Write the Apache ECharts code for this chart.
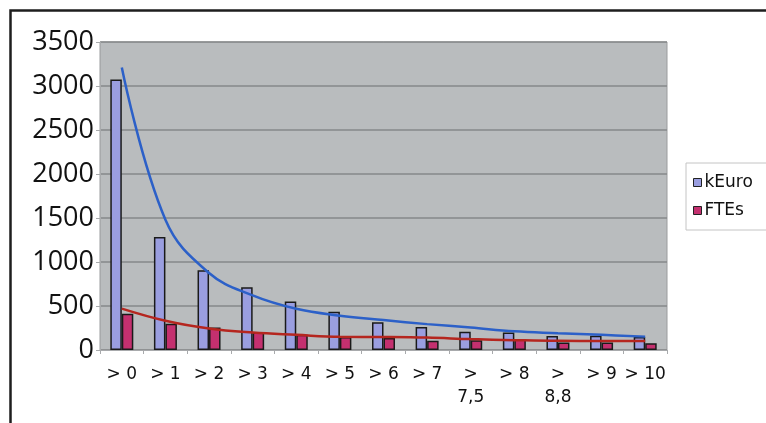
<!DOCTYPE html>
<html>
<head>
<meta charset="utf-8">
<script src="https://cdn.jsdelivr.net/npm/echarts@6/dist/echarts.min.js"></script>
<style>
html,body{margin:0;padding:0;background:#fff;}
#c{width:766px;height:423px;}
</style>
</head>
<body>
<div id="c"></div>
<script>
var categories = ['> 0','> 1','> 2','> 3','> 4','> 5','> 6','> 7','> 7,5','> 8','> 8,8','> 9','> 10'];
var kEuro = [3075, 1285, 905, 712, 550, 435, 315, 262, 206, 198, 160, 162, 149];
var FTEs = [412, 298, 255, 198, 172, 149, 137, 105, 111, 118, 86, 86, 77];
var kEuroTrend = [3210, 1480, 875, 620, 468, 390, 340, 294, 255, 212, 191, 172, 152];
var FTEsTrend = [470, 332, 244, 198, 172, 150, 148, 141, 124, 112, 104, 103, 102];
var yTicks = [0, 500, 1000, 1500, 2000, 2500, 3000, 3500];

var chart = echarts.init(document.getElementById('c'), null, {renderer: 'canvas'});
var font = '"Open Sans", "Liberation Sans", sans-serif';
var font2 = '"DejaVu Sans", "Open Sans", sans-serif';
chart.setOption({
  animation: false,
  backgroundColor: '#ffffff',
  textStyle: {fontFamily: font},
  graphic: [{
    type: 'rect', z: 100, silent: true,
    shape: {x: 10.5, y: 10.5, width: 820, height: 520},
    style: {fill: 'none', stroke: '#1e1e1e', lineWidth: 2.5}
  }],
  grid: {left: 100, top: 42, right: 99, bottom: 73, show: true, backgroundColor: '#b9bcbe', borderColor: '#9a9c9e', borderWidth: 1},
  legend: {
    left: 686, top: 163, orient: 'vertical',
    padding: [11, 30, 11, 7], itemGap: 11,
    itemWidth: 8, itemHeight: 8,
    borderColor: '#c4c4c4', borderWidth: 1,
    textStyle: {fontFamily: font2, fontSize: 17, color: '#111', padding: [0, 0, 0, -2]},
    data: [
      {name: 'kEuro', icon: 'rect', itemStyle: {color: '#9a9ee0', borderColor: '#222', borderWidth: 1}},
      {name: 'FTEs', icon: 'rect', itemStyle: {color: '#c4306f', borderColor: '#222', borderWidth: 1}}
    ]
  },
  xAxis: {
    type: 'category', data: categories,
    axisLine: {lineStyle: {color: '#a8aaac', width: 1}},
    axisTick: {show: true, alignWithLabel: false, length: 4, lineStyle: {color: '#a8aaac'}},
    axisLabel: {
      color: '#111', fontFamily: font2, fontSize: 17, margin: 13, lineHeight: 23, interval: 0,
      formatter: function (v) { return v.length > 4 ? v.replace(' ', '\n') : v; }
    }
  },
  yAxis: {
    type: 'value', min: 0, max: 3500, interval: 500,
    axisLine: {show: true, lineStyle: {color: '#a8aaac'}},
    axisTick: {show: true, length: 4, lineStyle: {color: '#a8aaac'}},
    splitLine: {lineStyle: {color: '#86888a', width: 1.5}},
    axisLabel: {
      color: '#111', fontSize: 27, margin: 6,
      formatter: function (v) { return yTicks.indexOf(v) >= 0 ? String(v) : ''; }
    }
  },
  series: [
    {name: 'kEuro', type: 'bar', data: kEuro, barWidth: 11.5, barGap: '0%',
     itemStyle: {color: '#9a9ee0', borderColor: '#1a1a1a', borderWidth: 1.5}},
    {name: 'FTEs', type: 'bar', data: FTEs, barWidth: 11.5,
     itemStyle: {color: '#c4306f', borderColor: '#1a1a1a', borderWidth: 1.5}},
    {name: 'kEuroTrend', type: 'line', data: kEuroTrend, smooth: 0.4, showSymbol: false, z: 5,
     lineStyle: {color: '#2c60c8', width: 2.5}},
    {name: 'FTEsTrend', type: 'line', data: FTEsTrend, smooth: 0.4, showSymbol: false, z: 5,
     lineStyle: {color: '#b5261f', width: 2.5}}
  ]
});
</script>
</body>
</html>
